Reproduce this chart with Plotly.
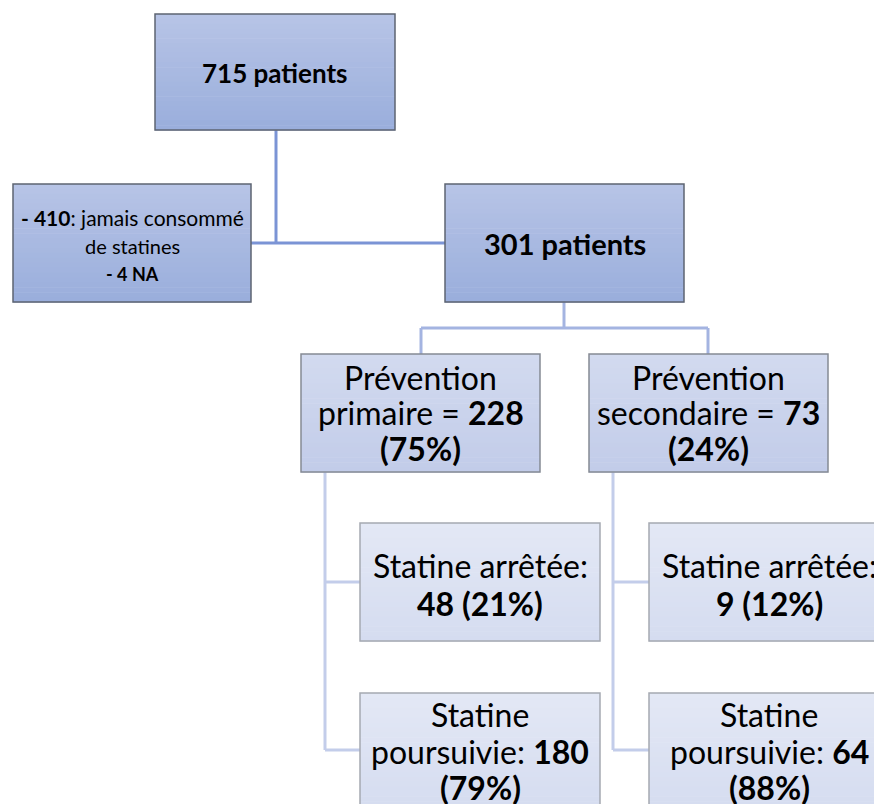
import plotly.graph_objects as go

# ---------------- data ----------------
total_patients = 715
excluded_never = 410
excluded_na = 4
statin_patients = 301
groups = ["primaire", "secondaire"]
group_counts = [228, 73]
group_pcts = [75, 24]
stopped_counts = [48, 9]
stopped_pcts = [21, 12]
continued_counts = [180, 64]
continued_pcts = [79, 88]

# ---------------- layout (pixels) ----------------
W, H = 874, 804
FONT = "Lato, Calibri, Carlito, sans-serif"

# box geometry: x0, y0, x1, y1
box_top = (155, 14, 395, 130)
box_excl = (13, 184, 251, 302)
box_301 = (445, 184, 684, 302)
box_grp = [(301, 354, 540, 472), (589, 354, 828, 472)]
box_stop = [(360, 523, 600, 641), (649, 523, 889, 641)]
box_cont = [(360, 693, 600, 811), (649, 693, 889, 811)]

L1 = dict(top="#b7c4e6", bot="#9aaedc", border="#5d6472")
L2 = dict(top="#d2daef", bot="#c2cce9", border="#858a94")
L3 = dict(top="#e3e8f5", bot="#d5dcf0", border="#a5a9b1")

shapes = []


def hex2rgb(h):
    h = h.lstrip("#")
    return tuple(int(h[i:i + 2], 16) for i in (0, 2, 4))


def grad_box(b, st, n=24):
    x0, y0, x1, y1 = b
    c0, c1 = hex2rgb(st["top"]), hex2rgb(st["bot"])
    hh = (y1 - y0) / n
    for i in range(n):
        t = i / (n - 1)
        c = tuple(round(c0[k] + (c1[k] - c0[k]) * t) for k in range(3))
        shapes.append(dict(type="rect", xref="x", yref="y", x0=x0, x1=x1,
                           y0=y0 + i * hh, y1=y0 + (i + 1) * hh + 0.6,
                           fillcolor="rgb(%d,%d,%d)" % c, line=dict(width=0),
                           layer="above"))
    shapes.append(dict(type="rect", xref="x", yref="y", x0=x0, x1=x1, y0=y0, y1=y1,
                       fillcolor="rgba(0,0,0,0)", line=dict(color=st["border"], width=1.5),
                       layer="above"))


def seg(x0, y0, x1, y1, color):
    shapes.append(dict(type="line", xref="x", yref="y", x0=x0, y0=y0, x1=x1, y1=y1,
                       line=dict(color=color, width=3), layer="below"))


# connectors
C1, C2, C3 = "#7b94d5", "#a4b4e1", "#c3cdea"
seg(276, 130, 276, 243, C1)
seg(251, 243, 445, 243, C1)
seg(564, 302, 564, 328, C2)
seg(421, 328, 708, 328, C2)
seg(421, 328, 421, 354, C2)
seg(708, 328, 708, 354, C2)
for vx, (b_s, b_c) in zip([325, 613], zip(box_stop, box_cont)):
    seg(vx, 472, vx, 750, C3)
    seg(vx, 582, b_s[0], 582, C3)
    seg(vx, 750, b_c[0], 750, C3)

grad_box(box_top, L1)
grad_box(box_excl, L1)
grad_box(box_301, L1)
for b in box_grp:
    grad_box(b, L2)
for b in box_stop:
    grad_box(b, L3)
for b in box_cont:
    grad_box(b, L3)

annotations = []


def txt(x, y, s, size):
    annotations.append(dict(x=x, y=y, xref="x", yref="y", text=s, showarrow=False,
                            xanchor="center", yanchor="middle",
                            font=dict(family=FONT, size=size, color="#000000")))


def cx(b):
    return (b[0] + b[2]) / 2


txt(cx(box_top), 73, "<b>%d patients</b>" % total_patients, 26)
txt(cx(box_excl), 217, "<b>- %d</b>: jamais consommé" % excluded_never, 21)
txt(cx(box_excl), 246, "de statines", 20)
txt(cx(box_excl), 274, "<b>- %d NA</b>" % excluded_na, 18)
txt(cx(box_301), 243, "<b>%d patients</b>" % statin_patients, 29)

BIG = 32
for i, b in enumerate(box_grp):
    txt(cx(b), 377, "Prévention", BIG)
    txt(cx(b), 412, "%s = <b>%d</b>" % (groups[i], group_counts[i]), BIG)
    txt(cx(b), 448, "<b>(%d%%)</b>" % group_pcts[i], BIG)

for i, b in enumerate(box_stop):
    txt(cx(b), 565, "Statine arrêtée:", BIG)
    txt(cx(b), 603, "<b>%d (%d%%)</b>" % (stopped_counts[i], stopped_pcts[i]), BIG)

for i, b in enumerate(box_cont):
    txt(cx(b), 714, "Statine", BIG)
    txt(cx(b), 751, "poursuivie: <b>%d</b>" % continued_counts[i], BIG)
    txt(cx(b), 787, "<b>(%d%%)</b>" % continued_pcts[i], BIG)

fig = go.Figure()
fig.add_trace(go.Scatter(x=[0, W], y=[0, H], mode="markers",
                         marker=dict(opacity=0), hoverinfo="skip", showlegend=False))
fig.update_layout(
    width=W, height=H, margin=dict(l=0, r=0, t=0, b=0),
    paper_bgcolor="white", plot_bgcolor="white",
    xaxis=dict(range=[0, W], visible=False, fixedrange=True),
    yaxis=dict(range=[H, 0], visible=False, fixedrange=True),
    shapes=shapes, annotations=annotations, showlegend=False,
)
fig.write_html("out.html", config={"displayModeBar": False},
               post_script="document.body.style.margin='0';document.body.style.overflow='hidden';")
